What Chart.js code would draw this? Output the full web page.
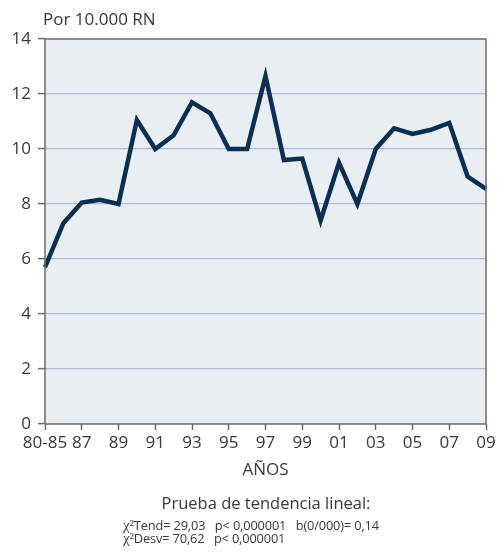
<!DOCTYPE html>
<html lang="es">
<head>
<meta charset="utf-8">
<title>Tasa por 10.000 RN</title>
<script src="https://cdn.jsdelivr.net/npm/chart.js@4.4.1/dist/chart.umd.min.js"></script>
<style>
  html, body { margin: 0; padding: 0; background: #ffffff; }
  #wrap { position: relative; width: 502px; height: 556px; font-family: "Open Sans", "Noto Sans", sans-serif; color: #383838; }
  #chart { position: absolute; left: 0; top: 0; }
  .txt { position: absolute; white-space: pre; }
  #unit { left: 43px; top: 8px; font-size: 17px; line-height: 22px; }
  #test { left: 0; width: 532px; top: 492px; font-size: 16.5px; line-height: 22px; text-align: center; }
  .stat { left: 123px; font-size: 12.8px; line-height: 14px; letter-spacing: -0.15px; }
  #s1 { top: 518px; }
  #s2 { top: 531px; }
  .chi { font-family: "Liberation Serif", "DejaVu Serif", serif; font-size: 15px; }
</style>
</head>
<body>
<div id="wrap">
  <canvas id="chart" width="502" height="556"></canvas>
  <div class="txt" id="unit">Por 10.000 RN</div>
  <div class="txt" id="test">Prueba de tendencia lineal:</div>
  <div class="txt stat" id="s1"><span class="chi">χ²</span>Tend= 29,03   p&lt; 0,000001   b(0/000)= 0,14</div>
  <div class="txt stat" id="s2"><span class="chi">χ²</span>Desv= 70,62   p&lt; 0,000001</div>
</div>
<script>
// Years: first point groups 1980-85, then one point per year up to 2009
const years = ['80-85', '86', '87', '88', '89', '90', '91', '92', '93', '94', '95', '96', '97',
               '98', '99', '00', '01', '02', '03', '04', '05', '06', '07', '08', '09'];
// Rate per 10.000 newborns
const rates = [5.7, 7.3, 8.05, 8.15, 8.0, 11.05, 10.0, 10.5, 11.7, 11.3, 10.0, 10.0, 12.65,
               9.6, 9.65, 7.4, 9.5, 8.0, 10.0, 10.75, 10.55, 10.7, 10.95, 9.0, 8.55];
const yTicks = [0, 2, 4, 6, 8, 10, 12, 14];

const AXIS = '#6a6a6a';
const GRID = '#a9bddb';
const PANEL = '#e9eef3';
const LINE = '#0b2f53';
const TEXT = '#383838';
const FONT = '"Open Sans", "Noto Sans", sans-serif';

// Panel fill and frame around the plotting area
const panel = {
  id: 'panel',
  beforeDraw(chart) {
    const { ctx, chartArea: a } = chart;
    ctx.save();
    ctx.fillStyle = PANEL;
    ctx.fillRect(a.left, a.top, a.right - a.left, a.bottom - a.top);
    ctx.restore();
  },
  afterDatasetsDraw(chart) {
    const { ctx, chartArea: a } = chart;
    ctx.save();
    ctx.strokeStyle = AXIS;
    ctx.lineWidth = 1.5;
    ctx.beginPath();
    ctx.moveTo(a.left, a.bottom);
    ctx.lineTo(a.left, a.top);
    ctx.lineTo(a.right, a.top);
    ctx.lineTo(a.right, a.bottom);
    ctx.lineTo(a.left, a.bottom);
    ctx.stroke();
    ctx.restore();
  }
};

new Chart(document.getElementById('chart'), {
  type: 'line',
  data: {
    labels: years,
    datasets: [{
      data: rates,
      borderColor: LINE,
      borderWidth: 4.5,
      borderJoinStyle: 'miter',
      pointRadius: 0,
      tension: 0,
      fill: false
    }]
  },
  options: {
    responsive: false,
    devicePixelRatio: 1,
    animation: false,
    events: [],
    layout: { padding: { top: 39, right: 16, bottom: 76, left: 0 } },
    plugins: { legend: { display: false }, tooltip: { enabled: false } },
    scales: {
      x: {
        type: 'category',
        offset: false,
        afterFit(scale) { scale.height = 56; },
        grid: {
          drawOnChartArea: false,
          drawTicks: true,
          tickLength: 6,
          tickWidth: 1.5,
          tickColor: (c) => (c.index % 2 === 0 ? AXIS : 'rgba(0,0,0,0)')
        },
        border: { display: false },
        ticks: {
          autoSkip: false,
          maxRotation: 0,
          padding: 3,
          color: TEXT,
          font: { family: FONT, size: 17 },
          callback(value, index) { return index % 2 === 0 ? years[index] : ''; }
        },
        title: {
          display: true,
          text: 'AÑOS',
          color: TEXT,
          font: { family: FONT, size: 17 },
          padding: { top: 0, bottom: 0 }
        }
      },
      y: {
        min: 0,
        max: 14,
        afterFit(scale) { scale.width = 45; },
        afterBuildTicks(scale) { scale.ticks = yTicks.map((v) => ({ value: v })); },
        grid: {
          color: (c) => (c.tick && (c.tick.value === 0 || c.tick.value === 14) ? 'rgba(0,0,0,0)' : GRID),
          lineWidth: 1.2,
          tickLength: 7,
          tickWidth: 1.5,
          tickColor: AXIS
        },
        border: { display: false },
        ticks: {
          padding: 7,
          color: TEXT,
          font: { family: FONT, size: 17 }
        }
      }
    }
  },
  plugins: [panel]
});
</script>
</body>
</html>
